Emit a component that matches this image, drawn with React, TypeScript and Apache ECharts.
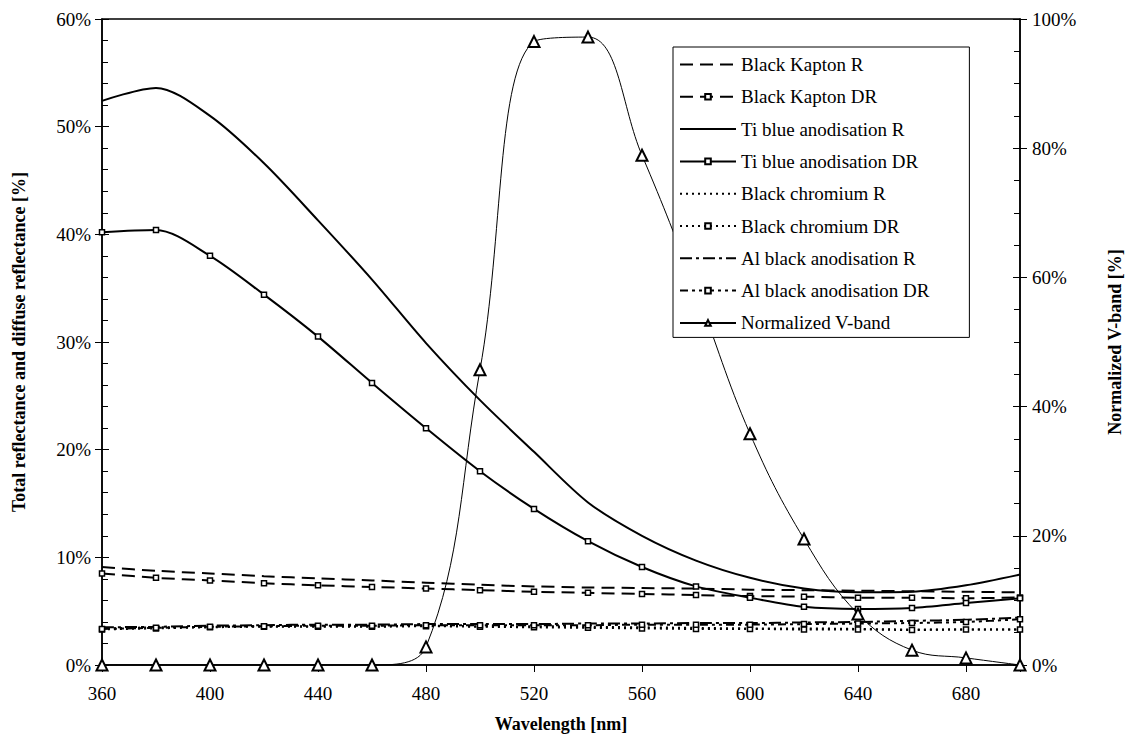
import React, { useEffect, useRef } from "react";
import * as echarts from "echarts";

const wavelengths = [360, 380, 400, 420, 440, 460, 480, 500, 520, 540, 560, 580, 600, 620, 640, 660, 680, 700];

const kaptonR = [9.1, 8.75, 8.5, 8.25, 8.05, 7.85, 7.65, 7.45, 7.3, 7.2, 7.15, 7.1, 7.0, 6.95, 6.9, 6.85, 6.8, 6.75];
const kaptonDR = [8.5, 8.1, 7.85, 7.6, 7.4, 7.25, 7.1, 6.95, 6.8, 6.7, 6.6, 6.5, 6.4, 6.35, 6.25, 6.25, 6.2, 6.28];
const tiR = [52.4, 53.6, 51.0, 46.6, 41.3, 35.8, 29.9, 24.6, 19.8, 15.1, 12.0, 9.7, 8.1, 7.1, 6.75, 6.8, 7.4, 8.4];
const tiDR = [40.2, 40.4, 38.0, 34.4, 30.5, 26.2, 22.0, 18.0, 14.5, 11.5, 9.1, 7.3, 6.25, 5.4, 5.2, 5.3, 5.75, 6.2];
const chromR = [3.4, 3.5, 3.55, 3.6, 3.6, 3.6, 3.65, 3.6, 3.6, 3.55, 3.5, 3.45, 3.4, 3.4, 3.35, 3.3, 3.3, 3.3];
const chromDR = [3.3, 3.4, 3.5, 3.55, 3.55, 3.55, 3.6, 3.55, 3.5, 3.45, 3.4, 3.35, 3.35, 3.3, 3.3, 3.25, 3.3, 3.3];
const alR = [3.5, 3.55, 3.65, 3.7, 3.75, 3.75, 3.8, 3.8, 3.8, 3.85, 3.85, 3.9, 3.9, 3.95, 4.0, 4.1, 4.2, 4.4];
const alDR = [3.35, 3.45, 3.55, 3.6, 3.65, 3.65, 3.7, 3.7, 3.7, 3.7, 3.75, 3.75, 3.75, 3.8, 3.85, 3.9, 4.0, 4.25];
const vBand = [0, 0, 0, 0, 0, 0, 2.8, 45.7, 96.5, 97.2, 78.9, 58, 35.8, 19.5, 7.9, 2.3, 1.1, 0];

const names = [
  "Black Kapton R",
  "Black Kapton DR",
  "Ti blue anodisation R",
  "Ti blue anodisation DR",
  "Black chromium R",
  "Black chromium DR",
  "Al black anodisation R",
  "Al black anodisation DR",
  "Normalized V-band",
];

const leftTicks = { min: 0, max: 60, interval: 10 };
const rightTicks = { min: 0, max: 100, interval: 20 };
const xTicks = { min: 360, max: 700, interval: 40 };

const FONT = "Liberation Serif";
const FS = 19;

export default function App() {
  const ref = useRef<HTMLDivElement>(null);
  useEffect(() => {
    document.body.style.margin = "0";
    const chart = echarts.init(ref.current!, null, { renderer: "svg" });

    const mk = (name: string, values: number[], dash: any, marker: boolean, smooth: number) => ({
      name,
      type: "line",
      yAxisIndex: 0,
      data: wavelengths.map((w, i) => [w, values[i]]),
      symbol: marker ? "rect" : "none",
      symbolSize: 5,
      showSymbol: marker,
      smooth,
      lineStyle: { color: "#000", width: 2, type: dash },
      itemStyle: { color: "#fff", borderColor: "#000", borderWidth: 1.5 },
      emphasis: { disabled: true },
      z: 2,
    });

    const series: any[] = [
      mk(names[0], kaptonR, [13, 7], false, 0.3),
      mk(names[1], kaptonDR, [13, 7], true, 0.3),
      mk(names[2], tiR, "solid", false, 0.3),
      mk(names[3], tiDR, "solid", true, 0.3),
      mk(names[4], chromR, [2, 4], false, 0.3),
      mk(names[5], chromDR, [2, 4], true, 0.3),
      mk(names[6], alR, [12, 4, 3, 4], false, 0.3),
      mk(names[7], alDR, [8, 4, 3, 4, 3, 4], true, 0.3),
      {
        name: names[8],
        type: "line",
        yAxisIndex: 1,
        data: wavelengths.map((w, i) => [w, vBand[i]]),
        symbol: "emptyTriangle",
        symbolSize: 11,
        smooth: 0.4,
        lineStyle: { color: "#000", width: 1 },
        itemStyle: { color: "#000", borderColor: "#000", borderWidth: 1.5 },
        emphasis: { disabled: true },
        z: 3,
      },
    ];

    const yBase = (pos: string, t: any) => ({
      type: "value",
      position: pos,
      min: t.min,
      max: t.max,
      interval: t.interval,
      splitLine: { show: false },
    });

    const option: any = {
      animation: false,
      backgroundColor: "#fff",
      grid: {
        left: 102,
        right: 110,
        top: 19,
        bottom: 77,
        show: true,
        borderColor: "#000",
        borderWidth: 1.5,
        backgroundColor: "transparent",
      },
      legend: {
        orient: "vertical",
        left: 673,
        top: 47,
        data: names.map((n, i) =>
          i % 2 === 0 && i !== 8 ? { name: n, itemStyle: { opacity: 0 } } : { name: n }
        ),
        itemWidth: 56,
        itemHeight: 7,
        itemGap: 13.3,
        padding: [8, 40, 5, 6],
        backgroundColor: "#fff",
        borderColor: "#000",
        borderWidth: 1,
        borderRadius: 0,
        selectedMode: false,
        textStyle: { fontFamily: FONT, fontSize: FS, color: "#000" },
      },
      xAxis: {
        type: "value",
        min: xTicks.min,
        max: xTicks.max,
        interval: xTicks.interval,
        axisLine: { show: true, lineStyle: { color: "#000", width: 1.5 } },
        axisTick: { show: true, length: 7, lineStyle: { color: "#000", width: 1 } },
        splitLine: { show: false },
        axisLabel: {
          fontFamily: FONT,
          fontSize: FS,
          color: "#000",
          margin: 19,
          formatter: (v: number) => (v === 700 ? "" : String(v)),
        },
        name: "Wavelength [nm]",
        nameLocation: "middle",
        nameGap: 50,
        nameTextStyle: { fontFamily: FONT, fontSize: 18, fontWeight: "bold", color: "#000" },
      },
      yAxis: [
        {
          ...yBase("left", leftTicks),
          axisLine: { show: true, lineStyle: { color: "#000", width: 1.5 } },
          axisTick: { show: true, inside: true, length: 7, lineStyle: { color: "#000", width: 1 } },
          minorTick: { show: true, splitNumber: 5, length: 6, lineStyle: { color: "#000", width: 1 } },
          axisLabel: {
            fontFamily: FONT,
            fontSize: FS,
            color: "#000",
            margin: 11,
            formatter: (v: number) => v + "%",
          },
          name: "Total reflectance and diffuse reflectance [%]",
          nameLocation: "middle",
          nameRotate: 90,
          nameGap: 74,
          nameTextStyle: { fontFamily: FONT, fontSize: 18, fontWeight: "bold", color: "#000" },
        },
        {
          ...yBase("right", rightTicks),
          axisLine: { show: true, lineStyle: { color: "#000", width: 1.5 } },
          axisTick: { show: true, inside: true, length: 7, lineStyle: { color: "#000", width: 1 } },
          minorTick: { show: true, splitNumber: 4, length: 6, lineStyle: { color: "#000", width: 1 } },
          axisLabel: {
            fontFamily: FONT,
            fontSize: FS,
            color: "#000",
            margin: 12,
            formatter: (v: number) => v + "%",
          },
          name: "Normalized V-band [%]",
          nameLocation: "middle",
          nameRotate: 90,
          nameGap: 86,
          nameTextStyle: { fontFamily: FONT, fontSize: 18, fontWeight: "bold", color: "#000" },
        },
        {
          ...yBase("left", leftTicks),
          axisLine: { show: false },
          axisTick: { show: true, length: 7, lineStyle: { color: "#000", width: 1 } },
          axisLabel: { show: false },
        },
        {
          ...yBase("right", rightTicks),
          axisLine: { show: false },
          axisTick: { show: true, length: 7, lineStyle: { color: "#000", width: 1 } },
          axisLabel: { show: false },
        },
      ],
      series,
    };

    chart.setOption(option);
    return () => chart.dispose();
  }, []);

  return <div ref={ref} style={{ width: 1132, height: 742 }} />;
}
